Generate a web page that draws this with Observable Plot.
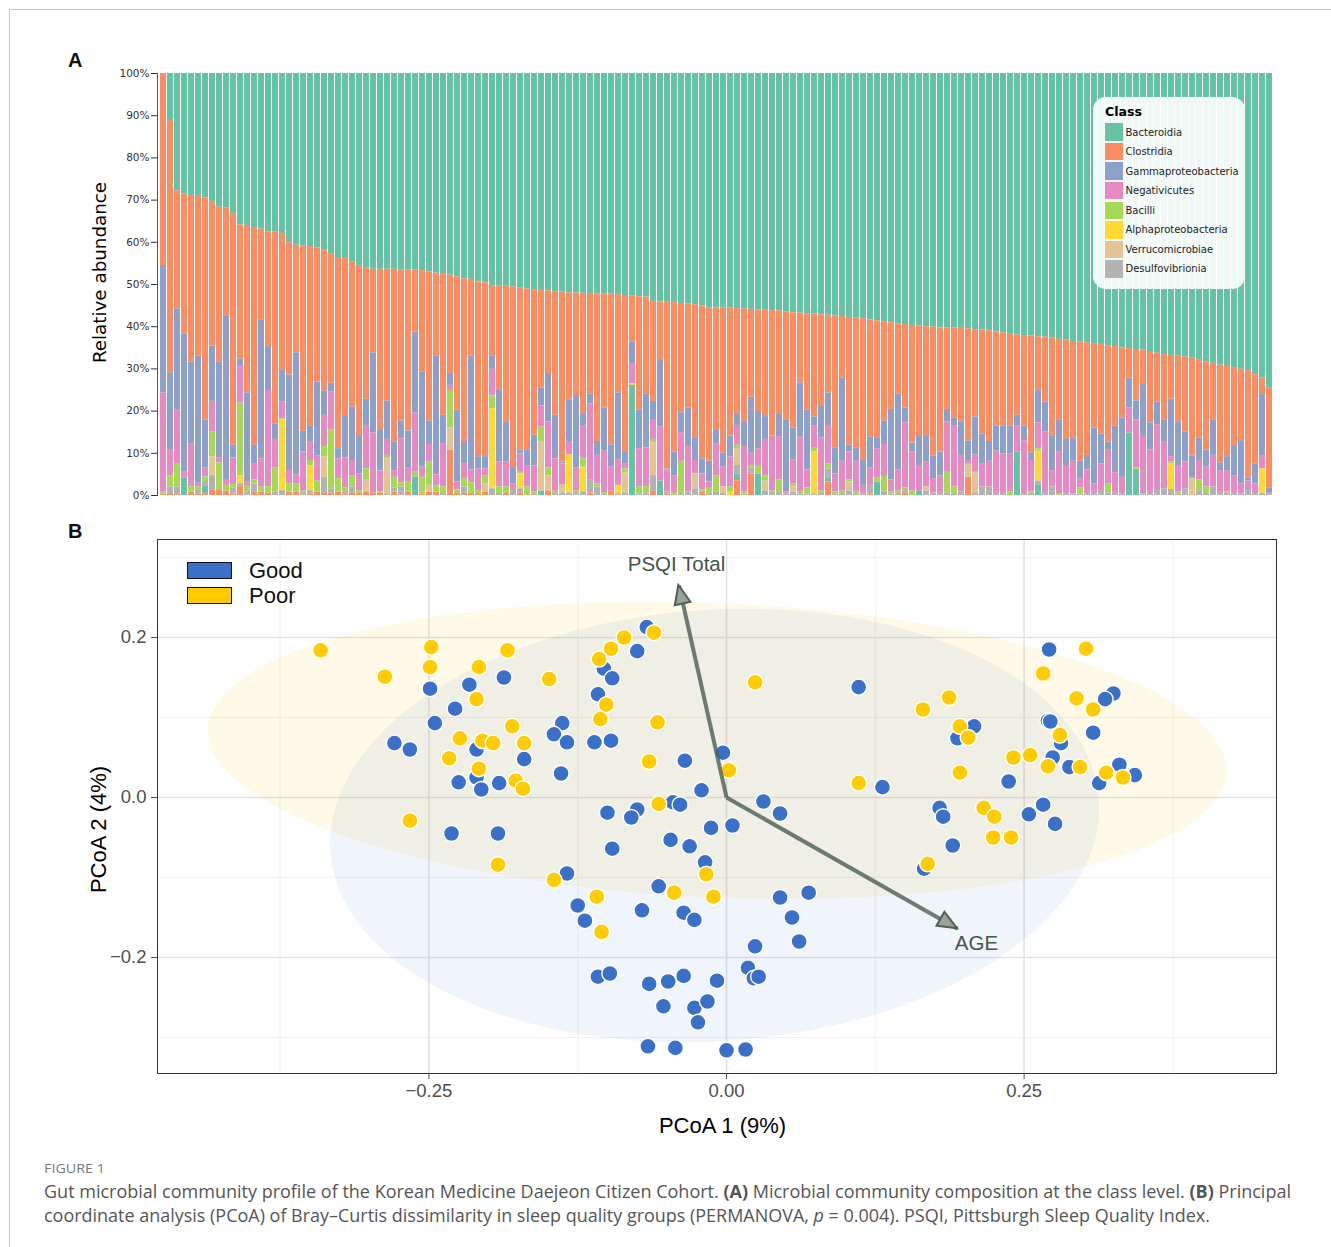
<!DOCTYPE html>
<html><head><meta charset="utf-8">
<script src="https://cdn.jsdelivr.net/npm/d3@7"></script>
<script src="https://cdn.jsdelivr.net/npm/@observablehq/plot@0.6"></script>
<style>
html,body{margin:0;padding:0;background:#fff;}
body{width:1331px;height:1247px;position:relative;overflow:hidden;}
.abs{position:absolute;}
.plab{font:bold 20px "Liberation Sans",Arial,sans-serif;line-height:20px;color:#111;}
</style></head><body>
<div class="abs" style="left:9px;top:9px;width:1400px;height:1400px;border-top:1px solid #c9c9c9;border-left:1px solid #c9c9c9;"></div>
<div class="abs plab" style="left:68px;top:49.5px;">A</div>
<div class="abs plab" style="left:68px;top:520.5px;">B</div>
<div id="chartA" class="abs" style="left:0;top:0;"></div>
<div id="legA" class="abs" style="left:1093px;top:97px;width:152px;height:192px;border-radius:13px;background:rgba(255,255,255,0.9);font-family:'DejaVu Sans',Verdana,sans-serif;font-size:10px;color:#222;"></div>
<div id="chartB" class="abs" style="left:0;top:520px;"></div>
<div id="legB" class="abs" style="left:186.5px;top:562px;font-family:'Liberation Sans',Arial,sans-serif;font-size:22px;color:#111;"></div>
<svg class="abs" style="left:0;top:1150px" width="1331" height="97" font-family="'Open Sans','Noto Sans',sans-serif">
<text x="44" y="23" font-size="12.5" fill="#777" textLength="61" lengthAdjust="spacingAndGlyphs">FIGURE 1</text>
<text x="44" y="48" font-size="17.5" fill="#555" textLength="1247" lengthAdjust="spacingAndGlyphs">Gut microbial community profile of the Korean Medicine Daejeon Citizen Cohort. <tspan font-weight="bold">(A)</tspan> Microbial community composition at the class level. <tspan font-weight="bold">(B)</tspan> Principal</text>
<text x="44" y="72" font-size="17.5" fill="#555" textLength="1166" lengthAdjust="spacingAndGlyphs">coordinate analysis (PCoA) of Bray–Curtis dissimilarity in sleep quality groups (PERMANOVA, <tspan font-style="italic">p</tspan> = 0.004). PSQI, Pittsburgh Sleep Quality Index.</text>
</svg>
<script>
// ---------------- Panel A data (relative abundance, %) ----------------
const classNames = ["Bacteroidia","Clostridia","Gammaproteobacteria","Negativicutes","Bacilli","Alphaproteobacteria","Verrucomicrobiae","Desulfovibrionia"];
const classColors = ["#66c2a5","#fc8d62","#8da0cb","#e78ac3","#a6d854","#ffd92f","#e5c494","#b3b3b3"];
const otherNames = ["Coriobacteriia","Actinomycetia"];
const otherColors = ["#66c2a5","#fc8d62"];
const yTicksA = [0,10,20,30,40,50,60,70,80,90,100];

// cumulative top of Clostridia (= 100 - Bacteroidia)
const clostridiaTop = [
100,89.1,72.2,71.5,71.1,71.1,70.5,69.7,68.3,68.1,66.8,64.1,64.0,63.3,63.1,62.5,62.5,62.1,59.9,59.3,
59.1,59.0,58.7,58.1,57.3,56.4,56.2,55.4,54.5,54.0,53.6,53.6,53.6,53.6,53.5,53.5,53.4,53.3,53.0,52.7,
52.4,52.2,51.8,51.3,51.2,50.6,50.4,49.6,49.6,
49.6,49.4,49.1,48.9,48.8,48.6,48.5,48.3,48.2,48.0,48.0,47.9,47.9,47.8,47.8,47.7,47.6,47.4,47.3,47.1,
47.0,46.0,45.9,45.8,45.7,45.5,45.4,45.2,44.9,44.5,44.5,44.4,44.4,44.3,44.2,44.1,44.0,43.9,43.8,43.7,
43.5,43.3,43.2,43.1,43.0,42.8,42.7,42.5,42.4,42.2,42.1,41.9,41.6,41.4,41.2,40.9,40.7,
40.5,40.3,40.2,40.0,39.9,39.7,39.7,39.7,39.6,39.5,39.3,39.2,39.0,38.8,38.5,38.2,38.0,37.9,37.8,37.6,
37.5,37.3,37.0,36.8,36.5,36.4,36.2,36.0,35.8,35.5,35.3,35.0,34.8,34.6,34.5,33.9,33.7,33.4,33.2,33.0,
32.8,32.5,32.2,31.7,31.3,30.9,30.6,30.3,29.9,29.6,28.6,27.9,25.4];
// cumulative top of Gammaproteobacteria
const gammaTop = [
54.5,29.1,44.2,38.2,31.6,33.0,17.9,35.4,31.7,42.6,11.9,32.3,24.3,11.9,41.5,35.5,17.0,29.8,28.5,33.8,
15.2,16.4,26.9,24.7,26.6,11.1,18.7,21.0,14.2,22.8,33.8,15.6,22.4,12.6,17.6,15.3,38.7,29.2,17.6,33.0,
19.0,28.9,20.3,12.8,33.0,9.2,9.2,33.0,24.9,
17.5,6.6,10.8,10.7,14.3,25.5,28.9,19.0,7.9,22.7,23.7,19.4,24.0,12.8,20.7,12.0,24.3,10.4,36.4,20.3,
24.1,22.3,32.2,6.3,10.3,19.6,20.7,13.7,8.7,8.1,15.6,10.0,14.1,19.4,17.5,23.3,19.9,18.7,14.1,19.4,
17.8,16.0,26.7,20.2,18.6,21.1,24.3,11.3,27.9,11.9,11.2,8.3,13.8,13.7,17.6,20.4,24.1,
20.7,12.4,14.2,14.0,9.3,10.3,20.4,18.3,17.5,12.9,18.6,14.6,12.8,16.4,16.4,16.4,19.0,16.4,10.0,24.9,
22.1,14.0,17.8,13.3,13.7,8.1,9.5,16.0,14.6,12.6,16.4,18.3,27.8,22.4,26.3,17.2,22.1,17.8,22.8,17.5,
15.0,9.3,13.6,10.8,17.8,7.7,9.2,11.6,13.0,4.1,7.5,23.9,1.7];
// cumulative top of Negativicutes
const negativicutesTop = [
24.3,10.7,20.2,5.5,12.3,2.9,6.5,22.3,8.9,3.8,8.9,30.6,3.3,7.4,8.7,24.9,13.3,22.1,5.9,4.9,
10.3,12.8,9.3,19.0,24.5,8.7,8.9,8.3,5.1,16.6,14.8,5.8,13.3,5.9,13.4,6.6,19.5,6.7,12.1,4.9,
12.3,26.1,3.2,7.4,6.1,6.3,6.3,29.9,7.9,
8.0,2.8,9.9,7.1,7.0,21.2,17.4,8.7,7.5,12.6,6.6,16.4,21.7,9.5,10.5,6.7,8.5,7.4,31.1,11.1,
11.3,17.8,16.2,6.1,4.7,14.9,11.6,8.3,5.1,3.2,12.3,6.7,9.1,16.6,11.6,10.0,11.1,13.3,14.0,13.8,
0.8,8.5,13.8,6.1,16.4,13.6,16.6,5.1,8.1,10.3,8.1,2.4,6.6,11.1,12.1,3.7,6.1,
17.2,10.3,6.9,7.9,4.0,4.7,17.4,16.4,9.5,8.3,9.6,7.4,8.1,10.5,9.9,9.9,16.4,13.0,8.3,17.2,
15.0,5.9,10.4,6.9,8.1,4.0,6.1,2.8,7.5,10.9,5.4,4.3,20.8,17.9,14.0,10.8,16.8,12.6,9.2,7.1,
7.9,4.3,8.3,6.7,9.5,5.9,5.9,4.7,2.8,3.4,2.8,9.3,0.5];
// minor classes (abundance, %)
const bacilli = [
.5,2.7,5.4,0,1.2,.8,1.1,5.8,6.5,1.4, .8,17.2,1.2,1.0,1.2,1.5,5.8,.3,2.0,2.0,
.5,1.2,2.6,2.5,14.0,3.2,.8,2.7,.6,2.7, 0,.4,.8,2.5,1.0,2.5,1.2,4.0,5.5,1.5,
1.5,8.9,.8,2.0,2.5,.8,1.9,3.0,1.5,1.5, 0,.6,2.0,.5,3.4,2.0,.5,0,0,.5,
2.0,0,.8,.4,0,0,.9,0,1.6,1.5, .8,0,0,.5,7.6,0,0,.5,1.2,4.0,
0,1.2,.8,.5,.6,1.8,1.3,.5,3.0,0, .8,.5,1.5,.8,.5,1.2,.6,.5,.5,.5,
0,0,.9,3.5,.5,.5,.6,1.0,0,0, 0,0,5.0,1.5,0,0,0,0,0,0,
0,.8,0,0,.3,.6,0,0,.3,0, 0,1.5,0,0,0,2.2,0,0,0,.5,
0,0,0,0,.3,.4,0,0,2.5,1.5, 0,0,.3,0,0,0,0,0,0];
const alphaproteobacteria = [
0,0,0,0,0,0,0,0,0,0, 0,1.9,0,0,0,0,0,16.8,0,0,
0,6.0,0,0,0,0,0,0,0,0, 0,0,0,0,0,0,0,0,0,0,
0,0,0,0,0,0,0,19.0,0,0, 0,3.5,0,0,0,0,0,0,9.0,0,
5.8,0,0,0,0,2.0,0,.4,0,0, 0,0,0,0,0,0,0,0,0,0,
0,.8,0,0,0,0,0,0,0,0, 0,0,0,10.0,0,0,0,0,0,0,
0,0,0,0,0,0,0,0,0,0, 0,0,0,0,0,0,0,0,0,0,
0,0,0,0,0,7.1,0,0,0,0, 0,0,0,0,0,0,0,0,0,0,
0,0,0,0,6.2,0,0,0,0,0, 0,0,0,0,0,0,0,5.8,0];
const verrucomicrobiae = [
0,0,0,0,0,0,0,4.5,0,0, 0,0,0,0,0,0,0,0,0,0,
0,0,0,4.8,0,0,0,0,0,2.8, 0,0,8.3,0,0,0,0,0,1.6,0,
0,5.3,0,0,0,0,2.0,0,0,0, 0,0,0,0,11.8,3.6,0,2.0,0,0,
0,0,0,0,0,0,4.8,0,0,0, 7.8,0,0,0,0,0,3.5,0,0,0,
1.5,0,4.0,0,0,0,2.4,0,0,0, 1.2,0,0,0,0,0,0,0,2.2,0,
0,0,0,0,0,0,0,0,0,1.0, 0,0,0,0,0,3.1,5.0,0,0,0,
0,0,0,0,0,0,0,0,0,0, 0,0,0,0,0,0,0,0,0,0,
0,0,0,0,0,0,0,4.0,0,0, 0,0,0,0,0,0,0,0,0];
const desulfovibrionia = [
0,1.5,1.6,0,0,.8,1.0,3.5,0,0, 1.5,.7,.9,2.0,0,0,.8,1.1,0,0,
.5,.8,0,3.8,1.0,0,.6,1.5,0,0, 0,0,.4,1.0,2.0,0,0,0,0,0,
.5,0,0,1.5,0,0,0,1.6,.5,0, 1.2,1.0,0,.3,0,0,.5,.6,.6,.5,
.9,3.0,2.0,.3,0,.4,.6,0,.4,.6, 3.6,0,.6,0,.5,.8,1.6,0,.5,.7,
.5,0,2.0,.3,1.4,0,1.0,.5,.7,.3, .8,.4,.3,.4,.5,2.1,.3,.5,1.0,.3,
.5,2.0,0,1.0,.3,.5,.6,0,0,1.0, .6,.5,.5,.5,.8,0,.5,2.0,2.0,.5,
.5,0,0,.5,.5,1.0,.5,2.0,0,.5, .4,.3,.5,.5,1.2,.6,.5,.3,0,0,
.4,.5,1.2,1.6,1.4,.4,1.6,0,1.2,.5, 2.0,.5,.5,.5,.3,1.2,.5,.5,.3];
const coriobacteriia = [
0,0,0,4.2,0,0,1.8,0,0,0, 0,0,0,0,0,0,0,0,0,0,
0,0,0,0,0,0,0,0,0,0, 0,0,0,0,0,0,4.3,0,0,0,
0,0,0,0,0,0,0,0,0,0, 0,0,0,0,1.0,0,0,0,0,0,
0,0,0,0,0,0,0,26.1,0,0, 0,3.4,0,0,0,0,0,0,0,0,
0,0,1.6,0,0,5.1,0,0,0,0, 0,0,0,0,0,1.0,0,0,0,0,
0,0,3.2,0,0,0,0,0,1.0,0, 0,0,0,0,0,0,0,0,0,0,
0,0,10.3,0,0,2.4,0,0,0,0, 0,0,0,0,0,0,0,0,14.8,6.1,
0,0,0,0,0,0,0,0,0,0, 0,0,0,0,0,0,0,0,0];
const actinomycetia = [
.3,.5,.4,0,.8,.4,.5,1.2,1.2,1.0, .3,2.1,0,.7,.8,.6,0,0,.8,.8,
0,.3,.8,.5,.6,.8,.4,.5,.6,.8, .6,.5,0,.8,0,.8,0,.3,.8,.8,
0,10.7,.5,.5,.5,.4,.8,0,0,.5, 0,.6,0,0,0,1.0,0,0,0,0,
0,.6,0,0,1.0,0,0,0,0,0, 1.1,0,.3,0,0,0,0,.8,0,0,
0,0,3.5,0,5.1,0,0,0,0,0, 0,0,0,0,0,3.2,0,0,0,0,
0,.4,0,0,0,0,.6,0,0,0, 0,0,0,0,0,4.3,0,0,0,0,
0,0,0,0,0,0,0,0,0,0, 0,0,0,0,0,0,0,0,0,0,
0,0,0,0,0,0,0,0,0,0, 0,0,0,0,0,0,0,0,0];

// ---------------- Panel B data (PCoA scores) ----------------
const goodPoints = [
[-0.249,0.136],[-0.187,0.150],[-0.216,0.141],[-0.228,0.111],[-0.245,0.093],[-0.279,0.068],[-0.266,0.060],[-0.138,0.093],[-0.145,0.079],[-0.134,0.069],
[-0.210,0.060],[-0.170,0.048],[-0.210,0.025],[-0.225,0.019],[-0.206,0.010],[-0.191,0.018],[-0.139,0.030],[-0.231,-0.045],[-0.192,-0.045],[-0.134,-0.095],
[-0.067,0.213],[-0.075,0.183],[-0.103,0.161],[-0.096,0.149],[-0.108,0.129],[-0.111,0.069],[-0.097,0.071],[-0.035,0.046],[-0.003,0.056],[-0.021,0.009],
[-0.045,-0.006],[-0.039,-0.009],[-0.075,-0.015],[-0.100,-0.019],[-0.080,-0.025],[0.031,-0.005],[0.045,-0.020],[-0.013,-0.038],[0.005,-0.035],[-0.096,-0.064],
[-0.047,-0.053],[-0.031,-0.061],[-0.018,-0.081],[-0.057,-0.111],[-0.125,-0.135],[-0.071,-0.141],[-0.036,-0.144],[0.045,-0.125],[-0.119,-0.154],[-0.027,-0.153],
[0.055,-0.150],[0.061,-0.180],[0.069,-0.119],[0.024,-0.186],[0.018,-0.213],[0.023,-0.226],[0.027,-0.224],[-0.108,-0.224],[-0.098,-0.220],[-0.065,-0.233],
[-0.049,-0.230],[-0.036,-0.223],[-0.008,-0.229],[-0.053,-0.261],[-0.027,-0.263],[-0.016,-0.255],[-0.024,-0.281],[-0.066,-0.311],[-0.043,-0.313],[0.000,-0.316],
[0.016,-0.315],[0.111,0.138],[0.208,0.089],[0.194,0.074],[0.131,0.013],[0.271,0.185],[0.325,0.130],[0.318,0.123],[0.270,0.096],[0.272,0.095],
[0.308,0.081],[0.281,0.068],[0.274,0.050],[0.288,0.038],[0.237,0.020],[0.330,0.041],[0.343,0.028],[0.313,0.018],[0.179,-0.013],[0.182,-0.024],
[0.254,-0.021],[0.266,-0.009],[0.276,-0.033],[0.190,-0.060],[0.166,-0.089]];
const poorPoints = [
[-0.341,0.184],[-0.287,0.151],[-0.248,0.188],[-0.249,0.163],[-0.184,0.184],[-0.208,0.163],[-0.210,0.123],[-0.149,0.148],[-0.224,0.074],[-0.180,0.089],
[-0.205,0.071],[-0.196,0.068],[-0.170,0.068],[-0.233,0.049],[-0.208,0.036],[-0.177,0.021],[-0.171,0.011],[-0.266,-0.029],[-0.192,-0.084],[-0.145,-0.103],
[-0.061,0.206],[-0.086,0.200],[-0.097,0.186],[-0.107,0.173],[-0.101,0.116],[-0.106,0.098],[-0.058,0.094],[0.024,0.144],[-0.065,0.045],[0.002,0.034],
[-0.057,-0.008],[-0.017,-0.096],[-0.109,-0.124],[-0.044,-0.119],[-0.011,-0.124],[-0.105,-0.168],[0.165,0.110],[0.187,0.125],[0.196,0.089],[0.203,0.075],
[0.196,0.031],[0.111,0.018],[0.302,0.186],[0.266,0.155],[0.294,0.124],[0.308,0.110],[0.280,0.078],[0.241,0.050],[0.255,0.053],[0.270,0.039],
[0.297,0.038],[0.319,0.031],[0.333,0.025],[0.216,-0.013],[0.225,-0.024],[0.224,-0.050],[0.239,-0.050],[0.169,-0.083]];
const groupNames = ["Good","Poor"];
const groupColors = ["#3a70c8","#ffcc00"];
// 95% ellipses: centre and two conjugate semi-axes (data units)
const ellipses = [
  {group:"Good", cx:-0.010, cy:-0.035, ax:0.323, ay:0.022, bx:0.0, by:0.270},
  {group:"Poor", cx:-0.008, cy:0.059, ax:0.428, ay:-0.025, bx:0.0, by:0.184}];
// envfit vectors
const vectors = [
  {label:"PSQI Total", ox:0, oy:0, x:-0.040, y:0.265, lx:-0.042, ly:0.291},
  {label:"AGE", ox:0, oy:0, x:0.194, y:-0.164, lx:0.210, ly:-0.1825}];
const xTicksB = [-0.25, 0, 0.25], xMinorB = [-0.375, -0.125, 0.125, 0.375];
const yTicksB = [-0.2, 0, 0.2], yMinorB = [-0.3, -0.1, 0.1, 0.3];

// ---------------- Panel A ----------------
const allClasses = [...classNames, ...otherNames];
const allColors = [...classColors, ...otherColors];
const stackOrder = [...allClasses].reverse(); // bottom first
const sampleIds = clostridiaTop.map((_, i) => i + 1);
const minors = {Bacilli: bacilli, Alphaproteobacteria: alphaproteobacteria, Verrucomicrobiae: verrucomicrobiae,
  Desulfovibrionia: desulfovibrionia, Coriobacteriia: coriobacteriia, Actinomycetia: actinomycetia};
const rowsA = [];
sampleIds.forEach((s, i) => {
  const minorSum = Object.values(minors).reduce((a, arr) => a + arr[i], 0);
  const v = {
    Bacteroidia: 100 - clostridiaTop[i],
    Clostridia: clostridiaTop[i] - gammaTop[i],
    Gammaproteobacteria: gammaTop[i] - negativicutesTop[i],
    Negativicutes: negativicutesTop[i] - minorSum
  };
  for (const k in minors) v[k] = minors[k][i];
  for (const k of allClasses) rowsA.push({sample: s, cls: k, value: Math.max(0, v[k])});
});

const chartA = Plot.plot({
  width: 1300, height: 510, marginTop: 73, marginBottom: 15, marginLeft: 157, marginRight: 24,
  style: {fontFamily: "'DejaVu Sans', Verdana, sans-serif", fontSize: "10.5px", color: "#333", background: "transparent"},
  x: {type: "band", domain: sampleIds, padding: 0.14, paddingOuter: 0.07, axis: null},
  y: {domain: [0, 100]},
  color: {domain: allClasses, range: allColors},
  marks: [
    Plot.barY(rowsA, {x: "sample", y: "value", fill: "cls", order: stackOrder}),
    Plot.frame({anchor: "left", stroke: "#555"}),
    Plot.axisY({ticks: yTicksA, tickFormat: d => d + "%", tickSize: 6, tickPadding: 2, fontSize: 10.5, label: null, color: "#333"}),
    Plot.text(["Relative abundance"], {text: d => d, frameAnchor: "left", textAnchor: "middle", dx: -57, dy: -12, rotate: -90, fontSize: 18.3, fill: "#000"})
  ]
});
document.getElementById("chartA").appendChild(chartA);

// legend A
const legA = document.getElementById("legA");
const ttl = document.createElement("div");
ttl.style.cssText = "position:absolute;left:12px;top:9px;font-weight:bold;font-size:12.6px;line-height:12.6px;color:#000";
ttl.textContent = "Class";
legA.appendChild(ttl);
classNames.forEach((name, k) => {
  const row = document.createElement("div");
  row.style.cssText = `position:absolute;left:12px;top:${26.3 + 19.55 * k}px;height:17.5px;display:flex;align-items:center;white-space:nowrap;`;
  row.innerHTML = `<span style="display:inline-block;width:17.5px;height:17.5px;background:${classColors[k]};margin-right:3px"></span><span>${name}</span>`;
  legA.appendChild(row);
});

// ---------------- Panel B ----------------
const pointsB = [
  ...goodPoints.map(([x, y]) => ({x, y, group: "Good"})),
  ...poorPoints.map(([x, y]) => ({x, y, group: "Poor"}))];
const steps = d3.range(0, 361, 2);
const ellipsePts = e => steps.map(a => {
  const t = a * Math.PI / 180;
  return {x: e.cx + e.ax * Math.cos(t) + e.bx * Math.sin(t), y: e.cy + e.ay * Math.cos(t) + e.by * Math.sin(t)};
});
const arrowColor = "#4b5d51";
const chartB = Plot.plot({
  width: 1300, height: 623, marginTop: 19, marginBottom: 70, marginLeft: 157, marginRight: 24,
  style: {fontFamily: "'Liberation Sans', Arial, sans-serif", background: "transparent", color: "#333"},
  x: {domain: [-0.478, 0.462]},
  y: {domain: [-0.345, 0.3225]},
  color: {domain: groupNames, range: groupColors},
  marks: [
    Plot.gridX(xMinorB, {stroke: "#f0f0f0", strokeOpacity: 1, strokeWidth: 1}),
    Plot.gridY(yMinorB, {stroke: "#f0f0f0", strokeOpacity: 1, strokeWidth: 1}),
    Plot.gridX(xTicksB, {stroke: "#e2e2e2", strokeOpacity: 1, strokeWidth: 1.6}),
    Plot.gridY(yTicksB, {stroke: "#e2e2e2", strokeOpacity: 1, strokeWidth: 1.6}),
    Plot.line(ellipsePts(ellipses[1]), {x: "x", y: "y", fill: groupColors[1], fillOpacity: 0.09, stroke: "none"}),
    Plot.line(ellipsePts(ellipses[0]), {x: "x", y: "y", fill: groupColors[0], fillOpacity: 0.08, stroke: "none"}),
    Plot.dot(pointsB, {x: "x", y: "y", fill: "group", r: 8, stroke: "white", strokeWidth: 1.4}),
    Plot.link(vectors, {x1: "ox", y1: "oy", x2: "x", y2: "y", stroke: arrowColor, strokeWidth: 4, strokeOpacity: 0.8}),
    Plot.text(vectors, {x: "lx", y: "ly", text: "label", fontSize: 20.5, fill: "#44554a"}),
    Plot.frame({stroke: "#333", strokeWidth: 1}),
    Plot.axisX({ticks: xTicksB, tickFormat: d3.format(".2f"), tickSize: 6, tickPadding: 4, fontSize: 18.5, label: null, color: "#4d4d4d"}),
    Plot.axisY({ticks: yTicksB, tickFormat: d3.format(".1f"), tickSize: 6, tickPadding: 5, fontSize: 18.5, label: null, color: "#4d4d4d"}),
    Plot.text(["PCoA 1 (9%)"], {text: d => d, frameAnchor: "bottom", dx: 5.5, dy: 59, fontSize: 22, fill: "#000"}),
    Plot.text(["PCoA 2 (4%)"], {text: d => d, frameAnchor: "left", textAnchor: "middle", dx: -59, dy: 23, rotate: -90, fontSize: 22, fill: "#000"})
  ]
});
// arrow heads, placed with the chart's own scales
const sx = chartB.scale("x"), sy = chartB.scale("y");
const NS = "http://www.w3.org/2000/svg";
vectors.forEach(v => {
  const x0 = sx.apply(v.ox), y0 = sy.apply(v.oy), x1 = sx.apply(v.x), y1 = sy.apply(v.y);
  const len = Math.hypot(x1 - x0, y1 - y0), ux = (x1 - x0) / len, uy = (y1 - y0) / len;
  const L = 19, W = 8, bx = x1 - ux * L, by = y1 - uy * L;
  const p = document.createElementNS(NS, "polygon");
  p.setAttribute("points", `${x1},${y1} ${bx - uy * W},${by + ux * W} ${bx + uy * W},${by - ux * W}`);
  p.setAttribute("fill", "#97a39b");
  p.setAttribute("stroke", "#4f6055");
  p.setAttribute("stroke-width", "2");
  p.setAttribute("stroke-linejoin", "miter");
  chartB.appendChild(p);
});
document.getElementById("chartB").appendChild(chartB);

// legend B
const legB = document.getElementById("legB");
groupNames.forEach((g, k) => {
  const row = document.createElement("div");
  row.style.cssText = `position:absolute;left:0;top:${k * 25}px;height:17px;display:flex;align-items:center;white-space:nowrap;`;
  row.innerHTML = `<span style="display:inline-block;box-sizing:border-box;width:45.5px;height:17px;background:${groupColors[k]};border:1.5px solid #111;margin-right:17px"></span><span style="line-height:22px">${g}</span>`;
  legB.appendChild(row);
});
</script>
</body></html>
